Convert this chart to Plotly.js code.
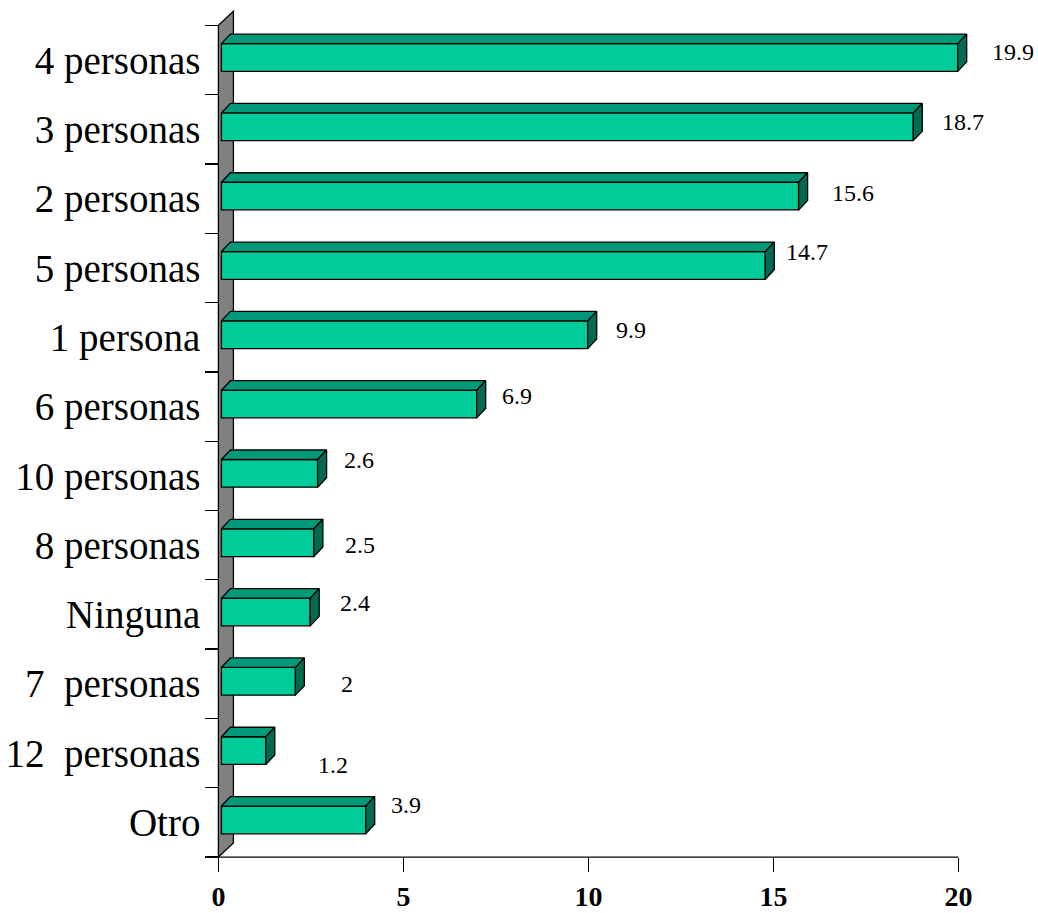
<!DOCTYPE html>
<html>
<head>
<meta charset="utf-8">
<script src="https://cdn.plot.ly/plotly-3.0.1.min.js"></script>
<style>html,body{margin:0;padding:0;background:#fff;}#chart{width:1038px;height:913px;}</style>
</head>
<body>
<div id="chart"></div>
<script>
// ---- data (top to bottom as shown) ----
var categories = ['4 personas','3 personas','2 personas','5 personas','1 persona','6 personas','10 personas','8 personas','Ninguna','7\u00a0 personas','12\u00a0 personas','Otro'];
var values = [19.9, 18.7, 15.6, 14.7, 9.9, 6.9, 2.6, 2.5, 2.4, 2, 1.2, 3.9];
var xTickVals = [0, 5, 10, 15, 20];
var xTickText = ['0', '5', '10', '15', '20'];

// ---- label nudges (pixels) ----
var labelDx = [58, 53, 57, 45, 46, 43, 44, 49, 48, 55, 70, 43];
var labelDy = [8, 7, 6, 16, 7, 11, 16, 0, 11, 0, -12, 17];

// ---- style / geometry constants ----
var PXX = 37.0, PXY = 69.31;
var n = categories.length;
var pos = categories.map(function (c, i) { return n - 1 - i; });
var wallDx = 15 / PXX, wallDy = 14 / PXY;
var base0 = 3 / PXX;
var barW = 0.40, barOff = 2.5 / PXY;
var dX = 9 / PXX, dY = 9.5 / PXY;

var FRONT = '#00CC99', TOP = '#00997A', SIDE = '#006B50', WALL = '#808080';
var LW = 1.3;
var SERIF = 'Liberation Serif, Times New Roman, serif';

var front = {
  type: 'bar', orientation: 'h',
  x: values, y: pos.map(function (p) { return p + barOff; }),
  base: values.map(function () { return base0; }),
  width: barW,
  marker: {color: FRONT, line: {color: '#000', width: LW}},
  hoverinfo: 'skip'
};

var tx = [], ty = [], sx = [], sy = [];
values.forEach(function (v, i) {
  var yc = pos[i] + barOff, yt = yc + barW / 2, yb = yc - barW / 2;
  var x0 = base0, x1 = base0 + v;
  tx.push(x0, x1, x1 + dX, x0 + dX, x0, null);
  ty.push(yt, yt, yt + dY, yt + dY, yt, null);
  sx.push(x1, x1 + dX, x1 + dX, x1, x1, null);
  sy.push(yt, yt + dY, yb + dY, yb, yt, null);
});
var topFaces = {type: 'scatter', mode: 'lines', fill: 'toself', fillcolor: TOP,
  x: tx, y: ty, line: {color: '#000', width: LW}, hoverinfo: 'skip'};
var sideFaces = {type: 'scatter', mode: 'lines', fill: 'toself', fillcolor: SIDE,
  x: sx, y: sy, line: {color: '#000', width: LW}, hoverinfo: 'skip'};

var annotations = values.map(function (v, i) {
  return {x: v, y: pos[i], xref: 'x', yref: 'y', text: String(v), showarrow: false,
    xanchor: 'center', yanchor: 'middle', xshift: labelDx[i], yshift: labelDy[i],
    font: {family: SERIF, size: 24, color: '#000'}};
});

var minorVals = [];
for (var k = 0; k <= n; k++) minorVals.push(k - 0.5);

var wallPath = 'M 0,-0.5 L 0,' + (n - 0.5) + ' L ' + wallDx + ',' + (n - 0.5 + wallDy) +
  ' L ' + wallDx + ',' + (-0.5 + wallDy) + ' Z';

var layout = {
  width: 1038, height: 913,
  margin: {l: 211, r: 13, t: 8, b: 49},
  paper_bgcolor: '#fff', plot_bgcolor: '#fff',
  showlegend: false, hovermode: false,
  xaxis: {
    range: [-0.2, 21.8], anchor: 'free', position: 0.1 / 12.35,
    tickvals: xTickVals, ticktext: xTickText,
    ticks: 'outside', ticklen: 14, tickwidth: LW, tickcolor: '#000',
    tickfont: {family: SERIF, size: 28, color: '#000', weight: 'bold'},
    ticklabelstandoff: 0,
    showgrid: false, zeroline: false, showline: false, fixedrange: true
  },
  yaxis: {
    range: [-0.6, 11.75], anchor: 'free', position: 0.2 / 22,
    tickvals: pos, ticktext: categories, ticks: '',
    tickfont: {family: SERIF, size: 39, color: '#000'},
    ticklabelstandoff: 18,
    minor: {tickvals: minorVals, ticks: 'outside', ticklen: 13, tickwidth: LW, tickcolor: '#000', showgrid: false},
    showgrid: false, zeroline: false, showline: false, fixedrange: true
  },
  shapes: [
    {type: 'path', xref: 'x', yref: 'y', path: wallPath, fillcolor: WALL,
      line: {color: '#000', width: LW}, layer: 'below'},
    {type: 'line', xref: 'x', yref: 'y', x0: 0, x1: 20, y0: -0.5, y1: -0.5,
      line: {color: '#000', width: LW}, layer: 'below'}
  ],
  annotations: annotations
};

Plotly.newPlot('chart', [front, topFaces, sideFaces], layout, {displayModeBar: false, staticPlot: true});
</script>
</body>
</html>
